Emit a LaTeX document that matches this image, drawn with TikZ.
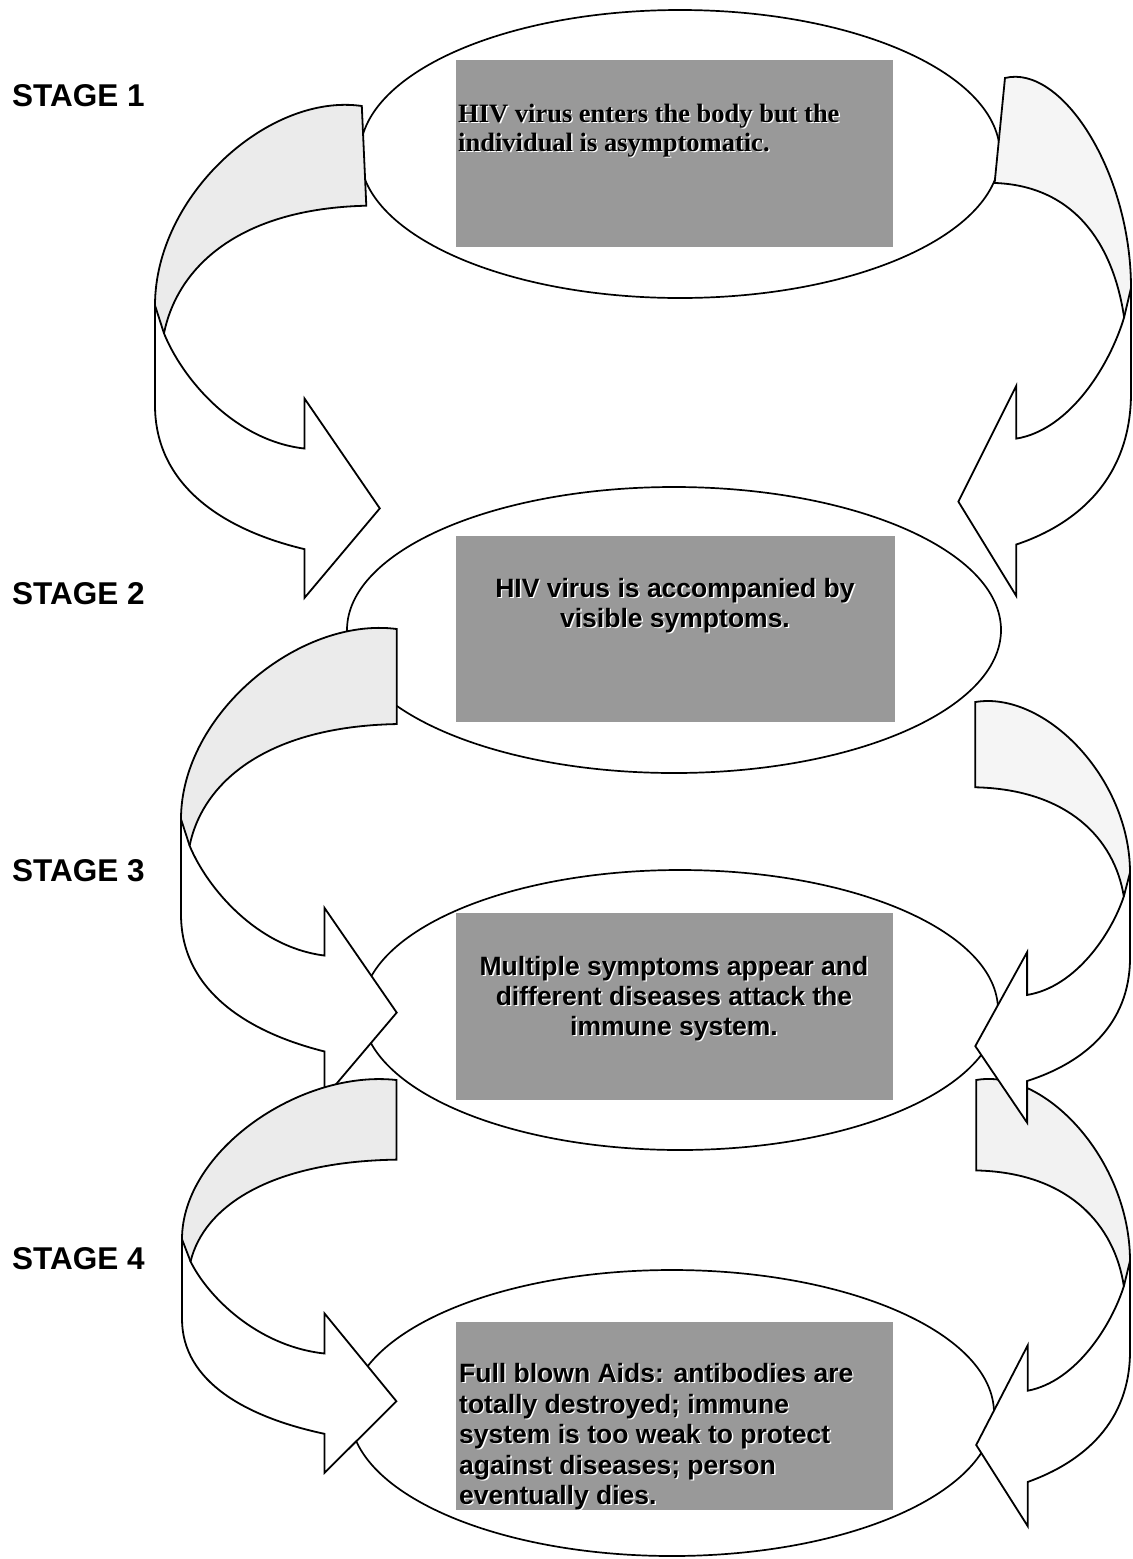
\documentclass[tikz,border=0pt]{standalone}
\usepackage{fontspec}
\setmainfont{Liberation Serif}
\newfontfamily\arialfam{Liberation Sans}
\usetikzlibrary{shapes.geometric}

% black text with a light offset copy behind it
\newcommand\shtext[1]{\leavevmode\rlap{\kern1.4pt\raisebox{-1.4pt}{\color{white}#1}}#1}

\tikzset{
  ring/.style={ellipse, draw=black, line width=1.7pt, fill=white, inner sep=0pt, outer sep=0pt},
  graybox/.style={fill=black!40, draw=none, inner sep=0pt, outer sep=0pt, anchor=north west},
  serifline/.style={inner sep=0pt, anchor=base west, font=\bfseries\fontsize{26.5}{28}\selectfont},
  sansline/.style={inner sep=0pt, anchor=base, font=\arialfam\bfseries\fontsize{26.5}{30}\selectfont},
  sanslineleft/.style={sansline, anchor=base west},
  stagelabel/.style={inner sep=0pt, anchor=base west, font=\arialfam\bfseries\fontsize{31.5}{36}\selectfont},
  ribbonedge/.style={draw=black, line width=1.8pt, line join=miter},
}

% outline of a curved ribbon arrow in its own unit frame
\newcommand\ribbonpath[3]{(#1-t1) .. controls ({0.55*#2},-0.03) and (0,0.2) .. (#1-l1) -- (#1-l2)
  .. controls (0,0.85) and (0.3,0.95) .. (#1-so) -- (#1-bb) -- (#1-tip) -- (#1-bt) -- (#1-si)
  .. controls (0.35,0.75) and (0.12,0.61) .. (#1-p) .. controls (0.1,0.36) and ({0.4*#3},0.23) .. (#1-t2) -- cycle}

% #1 name, #2 outer x, #3 side (1 bends left, -1 bends right), #4 width,
% #5 top y, #6 height, #7 / #8 tail position at top / bottom, #9 shade of the inner face
\newcommand\ribbonarrow[9]{%
  \begin{scope}[shift={(#2,#5)}, xscale={#3*#4}, yscale=#6]
    \coordinate (#1-t1) at (#7,0);
    \coordinate (#1-t2) at (#8,0.225);
    \coordinate (#1-l1) at (0,0.45);
    \coordinate (#1-l2) at (0,0.675);
    \coordinate (#1-so) at (0.665,1);
    \coordinate (#1-bb) at (0.665,1.11);
    \coordinate (#1-tip) at (1,0.908);
    \coordinate (#1-bt) at (0.665,0.66);
    \coordinate (#1-si) at (0.665,0.773);
    \coordinate (#1-p) at (0.04,0.513);
    \fill[white] \ribbonpath{#1}{#7}{#8};
    \fill[#9] (#1-t1) .. controls ({0.55*#7},-0.03) and (0,0.2) .. (#1-l1) -- (#1-p)
      .. controls (0.1,0.36) and ({0.4*#8},0.23) .. (#1-t2) -- cycle;
    \draw[ribbonedge] \ribbonpath{#1}{#7}{#8};
    \draw[ribbonedge] (#1-p) -- (#1-l1);
  \end{scope}}

\begin{document}
\begin{tikzpicture}[x=1pt, y=-1pt]
  \fill[white] (0,0) rectangle (1133,1559);
  \path[use as bounding box] (0,0) rectangle (1133,1559);

  % stage ellipses
  \node[ring, minimum width=640pt, minimum height=288pt] (e1) at (680,154) {};
  \node[ring, minimum width=654pt, minimum height=286pt] (e2) at (674,630) {};
  \node[ring, minimum width=636pt, minimum height=280pt] (e3) at (680,1010) {};
  \node[ring, minimum width=644pt, minimum height=286pt] (e4) at (672,1413) {};

  % grey panels
  \node[graybox, minimum width=437pt, minimum height=187pt] (b1) at (456,60) {};
  \node[graybox, minimum width=439pt, minimum height=186pt] (b2) at (456,536) {};
  \node[graybox, minimum width=437pt, minimum height=187pt] (b3) at (456,913) {};
  \node[graybox, minimum width=437pt, minimum height=188pt] (b4) at (456,1322) {};

  % panel texts
  \node[serifline] (s1a) at (458,122) {\shtext{HIV virus enters the body but the}};
  \node[serifline] (s1b) at (458,151) {\shtext{individual is asymptomatic.}};

  \node[sansline] (s2a) at (675,597) {\shtext{HIV virus is accompanied by}};
  \node[sansline] (s2b) at (675,627) {\shtext{visible symptoms.}};

  \node[sansline] (s3a) at (674,975) {\shtext{Multiple symptoms appear and}};
  \node[sansline] (s3b) at (674,1005) {\shtext{different diseases attack the}};
  \node[sansline] (s3c) at (674,1035) {\shtext{immune system.}};

  \node[sanslineleft] (s4a) at (459,1382) {\shtext{Full blown Aids: antibodies are}};
  \node[sanslineleft] (s4b) at (459,1413) {\shtext{totally destroyed; immune}};
  \node[sanslineleft] (s4c) at (459,1443) {\shtext{system is too weak to protect}};
  \node[sanslineleft] (s4d) at (459,1474) {\shtext{against diseases; person}};
  \node[sanslineleft] (s4e) at (459,1504) {\shtext{eventually dies.}};

  % stage labels
  \node[stagelabel] (st1) at (12,106) {STAGE 1};
  \node[stagelabel] (st2) at (12,604) {STAGE 2};
  \node[stagelabel] (st3) at (12,881) {STAGE 3};
  \node[stagelabel] (st4) at (12,1269) {STAGE 4};

  % ribbons on the left side
  \ribbonarrow{al1}{155}{1}{225}{106}{446}{0.92}{0.94}{black!8}
  \ribbonarrow{al2}{181}{1}{216}{629}{424}{1}{1}{black!8}
  \ribbonarrow{al3}{182}{1}{215}{1080}{355}{1}{1}{black!8}

  % ribbons on the right side
  \ribbonarrow{ar3}{1130}{-1}{154}{1080}{402}{1}{1}{black!5}
  \ribbonarrow{ar2}{1130}{-1}{155}{702}{380}{1}{1}{black!4}
  \ribbonarrow{ar1}{1131}{-1}{173}{78}{469}{0.73}{0.79}{black!4}
\end{tikzpicture}
\end{document}
